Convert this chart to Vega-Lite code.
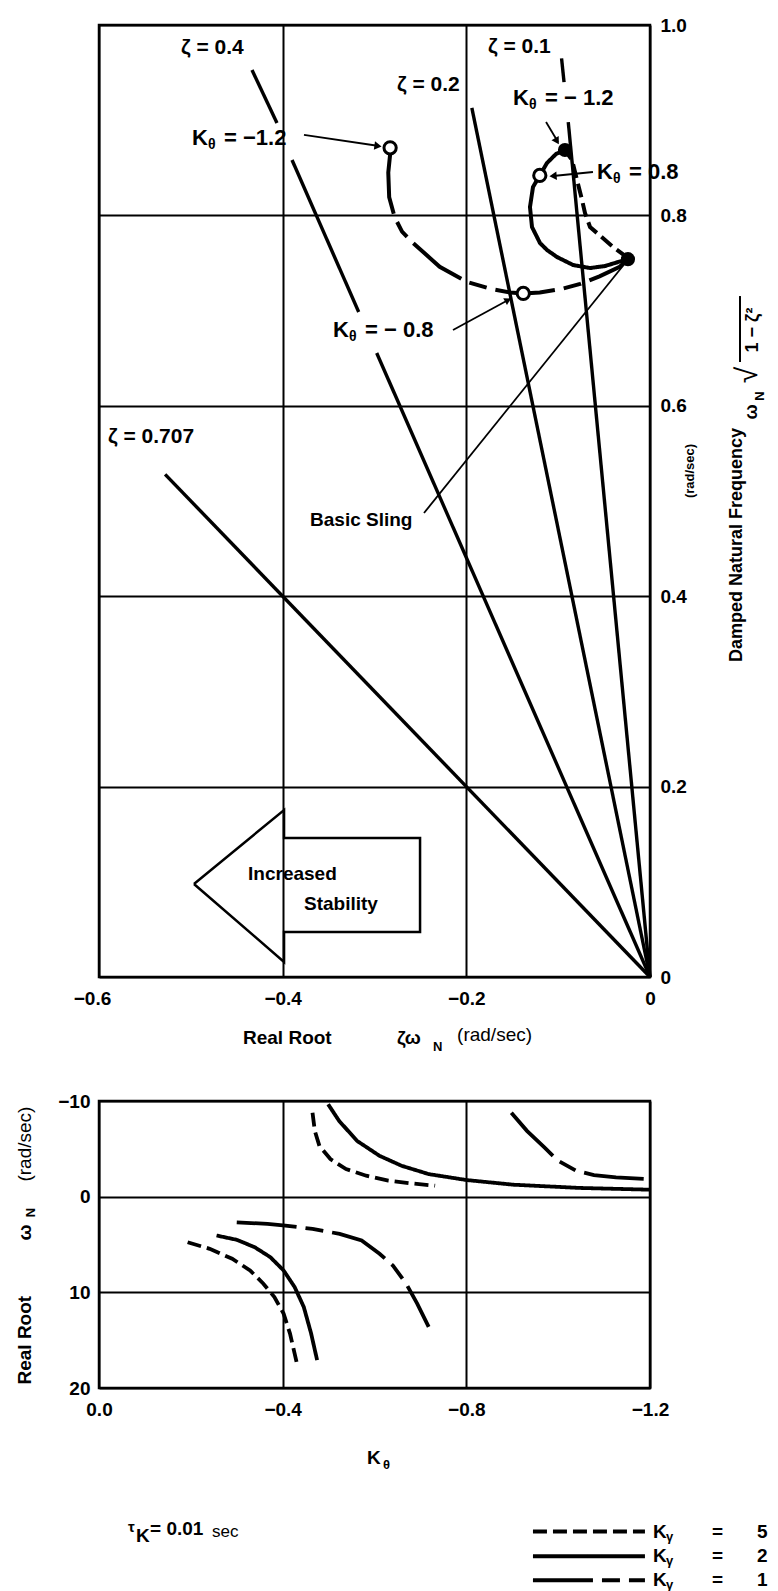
{
  "$schema": "https://vega.github.io/schema/vega-lite/v6.json",
  "autosize": {"type": "none"},
  "padding": {"left": 99, "top": 25, "right": 679, "bottom": 1566},
  "background": "white",
  "bounds": "flush",
  "spacing": 124,
  "config": {
    "view": {"stroke": "black", "strokeWidth": 2.5},
    "mark": {"color": "black"},
    "text": {"font": "Liberation Sans", "fontWeight": "bold", "color": "black"},
    "axis": {
      "gridColor": "black", "gridWidth": 2, "gridOpacity": 1,
      "labelColor": "black", "labelFont": "Liberation Sans", "labelFontSize": 19,
      "labelFontWeight": "bold", "labelOverlap": false, "labelFlush": false,
      "ticks": false, "domain": false, "title": null
    }
  },
  "datasets": {
    "zeta": [
      {"seg": "z707", "i": 0, "x": -0.528, "y": 0.528}, {"seg": "z707", "i": 1, "x": 0, "y": 0},
      {"seg": "z04a", "i": 0, "x": -0.4334, "y": 0.9527}, {"seg": "z04a", "i": 1, "x": -0.4062, "y": 0.8971},
      {"seg": "z04b", "i": 0, "x": -0.3898, "y": 0.8582}, {"seg": "z04b", "i": 1, "x": -0.3172, "y": 0.6985},
      {"seg": "z04c", "i": 0, "x": -0.2976, "y": 0.6555}, {"seg": "z04c", "i": 1, "x": 0, "y": 0},
      {"seg": "z02", "i": 0, "x": -0.194, "y": 0.913}, {"seg": "z02", "i": 1, "x": 0, "y": 0},
      {"seg": "z01a", "i": 0, "x": -0.0963, "y": 0.965}, {"seg": "z01a", "i": 1, "x": -0.0936, "y": 0.94},
      {"seg": "z01b", "i": 0, "x": -0.089, "y": 0.898}, {"seg": "z01b", "i": 1, "x": 0, "y": 0}
    ],
    "locus": [
      {"kg": "1", "i": 0, "x": -0.283, "y": 0.864}, {"kg": "1", "i": 1, "x": -0.285, "y": 0.845},
      {"kg": "1", "i": 2, "x": -0.284, "y": 0.819}, {"kg": "1", "i": 3, "x": -0.278, "y": 0.798},
      {"kg": "1", "i": 4, "x": -0.27, "y": 0.783}, {"kg": "1", "i": 5, "x": -0.258, "y": 0.771},
      {"kg": "1", "i": 6, "x": -0.237, "y": 0.753}, {"kg": "1", "i": 7, "x": -0.229, "y": 0.746},
      {"kg": "1", "i": 8, "x": -0.199, "y": 0.73}, {"kg": "1", "i": 9, "x": -0.174, "y": 0.723},
      {"kg": "1", "i": 10, "x": -0.152, "y": 0.719}, {"kg": "1", "i": 11, "x": -0.138, "y": 0.718},
      {"kg": "1", "i": 12, "x": -0.12, "y": 0.719}, {"kg": "1", "i": 13, "x": -0.095, "y": 0.723},
      {"kg": "1", "i": 14, "x": -0.076, "y": 0.728}, {"kg": "1", "i": 15, "x": -0.055, "y": 0.736},
      {"kg": "1", "i": 16, "x": -0.033, "y": 0.746}, {"kg": "1", "i": 17, "x": -0.024, "y": 0.754},
      {"kg": "2", "i": 0, "x": -0.024, "y": 0.7542}, {"kg": "2", "i": 1, "x": -0.049, "y": 0.7468},
      {"kg": "2", "i": 2, "x": -0.0653, "y": 0.7447}, {"kg": "2", "i": 3, "x": -0.0838, "y": 0.7479},
      {"kg": "2", "i": 4, "x": -0.1013, "y": 0.7563}, {"kg": "2", "i": 5, "x": -0.1122, "y": 0.7637},
      {"kg": "2", "i": 6, "x": -0.1198, "y": 0.771}, {"kg": "2", "i": 7, "x": -0.1285, "y": 0.7878},
      {"kg": "2", "i": 8, "x": -0.1307, "y": 0.8088}, {"kg": "2", "i": 9, "x": -0.1274, "y": 0.8298},
      {"kg": "2", "i": 10, "x": -0.1198, "y": 0.8424}, {"kg": "2", "i": 11, "x": -0.1122, "y": 0.855},
      {"kg": "2", "i": 12, "x": -0.1023, "y": 0.8645}, {"kg": "2", "i": 13, "x": -0.0926, "y": 0.8687},
      {"kg": "5", "i": 0, "x": -0.024, "y": 0.7553}, {"kg": "5", "i": 1, "x": -0.0403, "y": 0.7668},
      {"kg": "5", "i": 2, "x": -0.0577, "y": 0.7815}, {"kg": "5", "i": 3, "x": -0.0653, "y": 0.7878},
      {"kg": "5", "i": 4, "x": -0.0708, "y": 0.8025}, {"kg": "5", "i": 5, "x": -0.074, "y": 0.8162},
      {"kg": "5", "i": 6, "x": -0.0795, "y": 0.8372}, {"kg": "5", "i": 7, "x": -0.0849, "y": 0.8582},
      {"kg": "5", "i": 8, "x": -0.0926, "y": 0.8687}
    ],
    "leaders": [
      {"seg": "a", "i": 0, "x": -0.3768, "y": 0.8845}, {"seg": "a", "i": 1, "x": -0.295, "y": 0.8729},
      {"seg": "b", "i": 0, "x": -0.1132, "y": 0.8981}, {"seg": "b", "i": 1, "x": -0.1002, "y": 0.8771},
      {"seg": "c", "i": 0, "x": -0.0621, "y": 0.8456}, {"seg": "c", "i": 1, "x": -0.1056, "y": 0.8414},
      {"seg": "d", "i": 0, "x": -0.2145, "y": 0.6796}, {"seg": "d", "i": 1, "x": -0.1524, "y": 0.7122},
      {"seg": "e", "i": 0, "x": -0.2461, "y": 0.4874}, {"seg": "e", "i": 1, "x": -0.0261, "y": 0.7511}
    ],
    "stabilityArrow": [
      {"i": 0, "x": -0.4966, "y": 0.0977}, {"i": 1, "x": -0.3985, "y": 0.1754},
      {"i": 2, "x": -0.3985, "y": 0.146}, {"i": 3, "x": -0.2504, "y": 0.146},
      {"i": 4, "x": -0.2504, "y": 0.0473}, {"i": 5, "x": -0.3985, "y": 0.0473},
      {"i": 6, "x": -0.3985, "y": 0.0158}, {"i": 7, "x": -0.4966, "y": 0.0977}
    ],
    "ttxt": [
      {"role": "zlbl", "t": "ζ = 0.4", "x": -0.5107, "y": 0.9758},
      {"role": "zlbl", "t": "ζ = 0.2", "x": -0.2755, "y": 0.937},
      {"role": "zlbl", "t": "ζ = 0.1", "x": -0.1764, "y": 0.9769},
      {"role": "zlbl", "t": "ζ = 0.707", "x": -0.5902, "y": 0.5672},
      {"role": "lbl", "t": "Basic Sling", "x": -0.3702, "y": 0.48},
      {"role": "lbl", "t": "Increased", "x": -0.4377, "y": 0.1082},
      {"role": "lbl", "t": "Stability", "x": -0.3768, "y": 0.0767},
      {"role": "lbl", "t": "Real Root", "x": -0.4432, "y": -0.0641},
      {"role": "lbl", "t": "ζω", "x": -0.2755, "y": -0.0641},
      {"role": "sub", "t": "N", "x": -0.2363, "y": -0.0735},
      {"role": "light", "t": "(rad/sec)", "x": -0.2101, "y": -0.0609},
      {"role": "rot", "t": "Damped Natural Frequency", "x": 0.0948, "y": 0.4538},
      {"role": "rot", "t": "ω", "x": 0.1111, "y": 0.5935},
      {"role": "rotsub", "t": "N", "x": 0.1198, "y": 0.6103},
      {"role": "rotsmall", "t": "(rad/sec)", "x": 0.0436, "y": 0.5315},
      {"role": "rotbig", "t": "√", "x": 0.1067, "y": 0.6324},
      {"role": "rot", "t": "1 − ζ²", "x": 0.1122, "y": 0.6796}
    ],
    "klab": [
      {"x": -0.4987, "y": 0.8813, "rest": "= −1.2"},
      {"x": -0.1492, "y": 0.9233, "rest": "= − 1.2"},
      {"x": -0.0577, "y": 0.8456, "rest": "= 0.8"},
      {"x": -0.3452, "y": 0.6796, "rest": "= − 0.8"}
    ],
    "roots": [
      {"kg": "2", "part": "u", "i": 0, "k": -0.499, "r": -9.66}, {"kg": "2", "part": "u", "i": 1, "k": -0.523, "r": -7.92},
      {"kg": "2", "part": "u", "i": 2, "k": -0.562, "r": -5.83}, {"kg": "2", "part": "u", "i": 3, "k": -0.611, "r": -4.27},
      {"kg": "2", "part": "u", "i": 4, "k": -0.659, "r": -3.23}, {"kg": "2", "part": "u", "i": 5, "k": -0.718, "r": -2.36},
      {"kg": "2", "part": "u", "i": 6, "k": -0.8, "r": -1.74}, {"kg": "2", "part": "u", "i": 7, "k": -0.902, "r": -1.25},
      {"kg": "2", "part": "u", "i": 8, "k": -1.048, "r": -0.91}, {"kg": "2", "part": "u", "i": 9, "k": -1.199, "r": -0.73},
      {"kg": "5", "part": "u", "i": 0, "k": -0.465, "r": -8.78}, {"kg": "5", "part": "u", "i": 1, "k": -0.47, "r": -6.88},
      {"kg": "5", "part": "u", "i": 2, "k": -0.48, "r": -5.31}, {"kg": "5", "part": "u", "i": 3, "k": -0.504, "r": -3.93},
      {"kg": "5", "part": "u", "i": 4, "k": -0.538, "r": -2.89}, {"kg": "5", "part": "u", "i": 5, "k": -0.582, "r": -2.19},
      {"kg": "5", "part": "u", "i": 6, "k": -0.63, "r": -1.67}, {"kg": "5", "part": "u", "i": 7, "k": -0.679, "r": -1.39},
      {"kg": "5", "part": "u", "i": 8, "k": -0.732, "r": -1.15},
      {"kg": "1", "part": "u", "i": 0, "k": -0.898, "r": -8.78}, {"kg": "1", "part": "u", "i": 1, "k": -0.932, "r": -6.88},
      {"kg": "1", "part": "u", "i": 2, "k": -0.97, "r": -5.14}, {"kg": "1", "part": "u", "i": 3, "k": -1.0, "r": -3.75},
      {"kg": "1", "part": "u", "i": 4, "k": -1.039, "r": -2.71}, {"kg": "1", "part": "u", "i": 5, "k": -1.078, "r": -2.26},
      {"kg": "1", "part": "u", "i": 6, "k": -1.126, "r": -2.01}, {"kg": "1", "part": "u", "i": 7, "k": -1.199, "r": -1.84},
      {"kg": "1", "part": "l", "i": 0, "k": -0.3, "r": 2.68}, {"kg": "1", "part": "l", "i": 1, "k": -0.367, "r": 2.85},
      {"kg": "1", "part": "l", "i": 2, "k": -0.406, "r": 3.02}, {"kg": "1", "part": "l", "i": 3, "k": -0.465, "r": 3.37},
      {"kg": "1", "part": "l", "i": 4, "k": -0.524, "r": 3.89}, {"kg": "1", "part": "l", "i": 5, "k": -0.572, "r": 4.58},
      {"kg": "1", "part": "l", "i": 6, "k": -0.611, "r": 5.97}, {"kg": "1", "part": "l", "i": 7, "k": -0.64, "r": 7.19},
      {"kg": "1", "part": "l", "i": 8, "k": -0.669, "r": 9.1}, {"kg": "1", "part": "l", "i": 9, "k": -0.693, "r": 11.18},
      {"kg": "1", "part": "l", "i": 10, "k": -0.718, "r": 13.61},
      {"kg": "2", "part": "l", "i": 0, "k": -0.256, "r": 4.06}, {"kg": "2", "part": "l", "i": 1, "k": -0.3, "r": 4.51},
      {"kg": "2", "part": "l", "i": 2, "k": -0.339, "r": 5.28}, {"kg": "2", "part": "l", "i": 3, "k": -0.373, "r": 6.32},
      {"kg": "2", "part": "l", "i": 4, "k": -0.402, "r": 7.71}, {"kg": "2", "part": "l", "i": 5, "k": -0.426, "r": 9.44},
      {"kg": "2", "part": "l", "i": 6, "k": -0.446, "r": 11.53}, {"kg": "2", "part": "l", "i": 7, "k": -0.462, "r": 14.31},
      {"kg": "2", "part": "l", "i": 8, "k": -0.475, "r": 17.08},
      {"kg": "5", "part": "l", "i": 0, "k": -0.193, "r": 4.76}, {"kg": "5", "part": "l", "i": 1, "k": -0.241, "r": 5.45},
      {"kg": "5", "part": "l", "i": 2, "k": -0.29, "r": 6.49}, {"kg": "5", "part": "l", "i": 3, "k": -0.329, "r": 7.71},
      {"kg": "5", "part": "l", "i": 4, "k": -0.358, "r": 9.1}, {"kg": "5", "part": "l", "i": 5, "k": -0.382, "r": 10.49},
      {"kg": "5", "part": "l", "i": 6, "k": -0.402, "r": 12.22}, {"kg": "5", "part": "l", "i": 7, "k": -0.416, "r": 14.31},
      {"kg": "5", "part": "l", "i": 8, "k": -0.431, "r": 17.43}
    ],
    "keyLines": [
      {"kg": "5", "i": 0, "k": -0.9451, "r": 35.0}, {"kg": "5", "i": 1, "k": -1.189, "r": 35.0},
      {"kg": "2", "i": 0, "k": -0.9451, "r": 37.6}, {"kg": "2", "i": 1, "k": -1.189, "r": 37.6},
      {"kg": "1", "i": 0, "k": -0.9451, "r": 40.1}, {"kg": "1", "i": 1, "k": -1.189, "r": 40.1}
    ],
    "keyText": [
      {"kg": "5", "k": -1.2064, "r": 35.0},
      {"kg": "2", "k": -1.2064, "r": 37.6},
      {"kg": "1", "k": -1.2064, "r": 40.1}
    ],
    "btxt": [
      {"role": "lbl", "t": "K", "k": -0.5836, "r": 27.3},
      {"role": "sub", "t": "θ", "k": -0.6185, "r": 28.1},
      {"role": "small", "t": "τ", "k": -0.0632, "r": 34.48},
      {"role": "lbl", "t": "K", "k": -0.0806, "r": 35.52},
      {"role": "lbl", "t": "= 0.01", "k": -0.1111, "r": 34.79},
      {"role": "light", "t": "sec", "k": -0.2461, "r": 35.0},
      {"role": "rot", "t": "Real Root", "k": 0.1612, "r": 15.0},
      {"role": "rot", "t": "ω", "k": 0.1612, "r": 3.75},
      {"role": "rotsub", "t": "N", "k": 0.1481, "r": 1.67},
      {"role": "rotlight", "t": "(rad/sec)", "k": 0.1612, "r": -5.5}
    ]
  },
  "vconcat": [
    {
      "width": 551,
      "height": 952,
      "encoding": {
        "x": {
          "field": "x", "type": "quantitative",
          "scale": {"domain": [-0.6, 0], "nice": false, "zero": false},
          "axis": {"values": [-0.6, -0.4, -0.2, 0], "grid": true, "labelPadding": 12,
                   "labelOffset": {"condition": {"test": "datum.value == -0.6", "value": -7}, "value": 0},
                   "labelExpr": "datum.value == 0 ? '0' : format(datum.value, '.1f')"}
        },
        "y": {
          "field": "y", "type": "quantitative",
          "scale": {"domain": [0, 1], "nice": false, "zero": false},
          "axis": {"orient": "right", "values": [0, 0.2, 0.4, 0.6, 0.8, 1], "grid": true,
                   "labelPadding": 10, "labelAlign": "left", "labelBaseline": "middle",
                   "labelExpr": "datum.value == 0 ? '0' : format(datum.value, '.1f')"}
        }
      },
      "layer": [
        {
          "data": {"name": "zeta"},
          "mark": {"type": "line", "strokeWidth": 3.4},
          "encoding": {"detail": {"field": "seg"}, "order": {"field": "i"}}
        },
        {
          "data": {"name": "locus"},
          "mark": {"type": "line", "strokeWidth": 4},
          "encoding": {
            "strokeDash": {"field": "kg", "type": "nominal", "legend": null,
                           "scale": {"domain": ["5", "2", "1"], "range": [[14, 6], [1, 0], [60, 9, 18, 9]]}},
            "order": {"field": "i"}
          }
        },
        {
          "data": {"name": "leaders"},
          "mark": {"type": "line", "strokeWidth": 1.8},
          "encoding": {"detail": {"field": "seg"}, "order": {"field": "i"}}
        },
        {
          "data": {"values": [{"x": -0.2962, "y": 0.8729}]},
          "mark": {"type": "point", "shape": "triangle-right", "filled": true, "size": 70, "angle": 8, "opacity": 1},
          "encoding": {}
        },
        {
          "data": {"values": [{"x": -0.1013, "y": 0.878}]},
          "mark": {"type": "point", "shape": "triangle-right", "filled": true, "size": 70, "angle": 59, "opacity": 1},
          "encoding": {}
        },
        {
          "data": {"values": [{"x": -0.1056, "y": 0.8414}]},
          "mark": {"type": "point", "shape": "triangle-right", "filled": true, "size": 70, "angle": 176, "opacity": 1},
          "encoding": {}
        },
        {
          "data": {"values": [{"x": -0.1546, "y": 0.7111}]},
          "mark": {"type": "point", "shape": "triangle-right", "filled": true, "size": 60, "angle": 331, "opacity": 1},
          "encoding": {}
        },
        {
          "data": {"values": [{"x": -0.283, "y": 0.871}, {"x": -0.138, "y": 0.718}, {"x": -0.12, "y": 0.842}]},
          "mark": {"type": "point", "shape": "circle", "filled": true, "fill": "white", "stroke": "black",
                   "strokeWidth": 3, "size": 150, "opacity": 1},
          "encoding": {}
        },
        {
          "data": {"values": [{"x": -0.024, "y": 0.754}, {"x": -0.0926, "y": 0.8687}]},
          "mark": {"type": "point", "shape": "circle", "filled": true, "size": 200, "opacity": 1},
          "encoding": {}
        },
        {
          "data": {"name": "stabilityArrow"},
          "mark": {"type": "line", "strokeWidth": 2.5, "strokeJoin": "miter"},
          "encoding": {"order": {"field": "i"}}
        },
        {
          "data": {"values": [{"x": 0.098, "y": 0.646, "y2": 0.7153}]},
          "mark": {"type": "rule", "strokeWidth": 2},
          "encoding": {"y2": {"field": "y2"}}
        },
        {
          "data": {"name": "ttxt"},
          "transform": [{"filter": "datum.role == 'zlbl'"}],
          "mark": {"type": "text", "align": "left", "baseline": "middle", "fontSize": 21},
          "encoding": {"text": {"field": "t"}}
        },
        {
          "data": {"name": "ttxt"},
          "transform": [{"filter": "datum.role == 'lbl'"}],
          "mark": {"type": "text", "align": "left", "baseline": "middle", "fontSize": 19},
          "encoding": {"text": {"field": "t"}}
        },
        {
          "data": {"name": "ttxt"},
          "transform": [{"filter": "datum.role == 'sub'"}],
          "mark": {"type": "text", "align": "left", "baseline": "middle", "fontSize": 13},
          "encoding": {"text": {"field": "t"}}
        },
        {
          "data": {"name": "ttxt"},
          "transform": [{"filter": "datum.role == 'light'"}],
          "mark": {"type": "text", "align": "left", "baseline": "middle", "fontSize": 19, "fontWeight": "normal"},
          "encoding": {"text": {"field": "t"}}
        },
        {
          "data": {"name": "ttxt"},
          "transform": [{"filter": "datum.role == 'rot'"}],
          "mark": {"type": "text", "align": "center", "baseline": "middle", "fontSize": 18, "angle": 270},
          "encoding": {"text": {"field": "t"}}
        },
        {
          "data": {"name": "ttxt"},
          "transform": [{"filter": "datum.role == 'rotsub'"}],
          "mark": {"type": "text", "align": "center", "baseline": "middle", "fontSize": 13, "angle": 270},
          "encoding": {"text": {"field": "t"}}
        },
        {
          "data": {"name": "ttxt"},
          "transform": [{"filter": "datum.role == 'rotsmall'"}],
          "mark": {"type": "text", "align": "center", "baseline": "middle", "fontSize": 13, "angle": 270},
          "encoding": {"text": {"field": "t"}}
        },
        {
          "data": {"name": "ttxt"},
          "transform": [{"filter": "datum.role == 'rotbig'"}],
          "mark": {"type": "text", "align": "center", "baseline": "middle", "fontSize": 30, "fontWeight": "normal", "angle": 270},
          "encoding": {"text": {"field": "t"}}
        },
        {
          "data": {"name": "klab"},
          "mark": {"type": "text", "align": "left", "baseline": "middle", "fontSize": 22, "text": "K"},
          "encoding": {}
        },
        {
          "data": {"name": "klab"},
          "mark": {"type": "text", "align": "left", "baseline": "middle", "fontSize": 14, "text": "θ", "dx": 16, "dy": 7},
          "encoding": {}
        },
        {
          "data": {"name": "klab"},
          "mark": {"type": "text", "align": "left", "baseline": "middle", "fontSize": 22, "dx": 32},
          "encoding": {"text": {"field": "rest"}}
        }
      ]
    },
    {
      "width": 551,
      "height": 287,
      "encoding": {
        "x": {
          "field": "k", "type": "quantitative",
          "scale": {"domain": [-1.2, 0], "reverse": true, "nice": false, "zero": false},
          "axis": {"values": [0, -0.4, -0.8, -1.2], "format": ".1f", "grid": true, "labelPadding": 12}
        },
        "y": {
          "field": "r", "type": "quantitative",
          "scale": {"domain": [-10, 20], "reverse": true, "nice": false, "zero": false},
          "axis": {"values": [-10, 0, 10, 20], "format": "d", "grid": true, "labelPadding": 9}
        }
      },
      "layer": [
        {
          "data": {"name": "roots"},
          "mark": {"type": "line", "strokeWidth": 3.8},
          "encoding": {
            "strokeDash": {"field": "kg", "type": "nominal", "legend": null,
                           "scale": {"domain": ["5", "2", "1"], "range": [[14, 6], [1, 0], [60, 9, 18, 9]]}},
            "detail": {"field": "part"},
            "order": {"field": "i"}
          }
        },
        {
          "data": {"name": "keyLines"},
          "mark": {"type": "line", "strokeWidth": 4},
          "encoding": {
            "strokeDash": {"field": "kg", "type": "nominal", "legend": null},
            "order": {"field": "i"}
          }
        },
        {
          "data": {"name": "keyText"},
          "mark": {"type": "text", "align": "left", "baseline": "middle", "fontSize": 19, "text": "K"},
          "encoding": {}
        },
        {
          "data": {"name": "keyText"},
          "mark": {"type": "text", "align": "left", "baseline": "middle", "fontSize": 13, "text": "γ", "dx": 13, "dy": 5},
          "encoding": {}
        },
        {
          "data": {"name": "keyText"},
          "mark": {"type": "text", "align": "left", "baseline": "middle", "fontSize": 19, "text": "=", "dx": 59},
          "encoding": {}
        },
        {
          "data": {"name": "keyText"},
          "mark": {"type": "text", "align": "left", "baseline": "middle", "fontSize": 19, "dx": 104},
          "encoding": {"text": {"field": "kg"}}
        },
        {
          "data": {"name": "btxt"},
          "transform": [{"filter": "datum.role == 'lbl'"}],
          "mark": {"type": "text", "align": "left", "baseline": "middle", "fontSize": 19},
          "encoding": {"text": {"field": "t"}}
        },
        {
          "data": {"name": "btxt"},
          "transform": [{"filter": "datum.role == 'sub'"}],
          "mark": {"type": "text", "align": "left", "baseline": "middle", "fontSize": 13},
          "encoding": {"text": {"field": "t"}}
        },
        {
          "data": {"name": "btxt"},
          "transform": [{"filter": "datum.role == 'small'"}],
          "mark": {"type": "text", "align": "left", "baseline": "middle", "fontSize": 15},
          "encoding": {"text": {"field": "t"}}
        },
        {
          "data": {"name": "btxt"},
          "transform": [{"filter": "datum.role == 'light'"}],
          "mark": {"type": "text", "align": "left", "baseline": "middle", "fontSize": 17, "fontWeight": "normal"},
          "encoding": {"text": {"field": "t"}}
        },
        {
          "data": {"name": "btxt"},
          "transform": [{"filter": "datum.role == 'rot'"}],
          "mark": {"type": "text", "align": "center", "baseline": "middle", "fontSize": 19, "angle": 270},
          "encoding": {"text": {"field": "t"}}
        },
        {
          "data": {"name": "btxt"},
          "transform": [{"filter": "datum.role == 'rotsub'"}],
          "mark": {"type": "text", "align": "center", "baseline": "middle", "fontSize": 13, "angle": 270},
          "encoding": {"text": {"field": "t"}}
        },
        {
          "data": {"name": "btxt"},
          "transform": [{"filter": "datum.role == 'rotlight'"}],
          "mark": {"type": "text", "align": "center", "baseline": "middle", "fontSize": 19, "fontWeight": "normal", "angle": 270},
          "encoding": {"text": {"field": "t"}}
        }
      ]
    }
  ]
}
